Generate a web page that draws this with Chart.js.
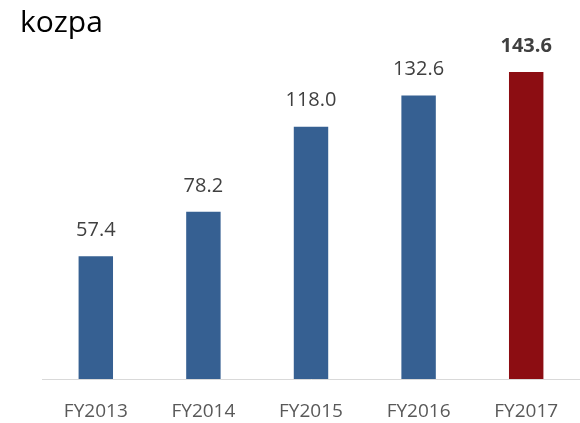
<!DOCTYPE html>
<html>
<head>
<meta charset="utf-8">
<script src="https://cdn.jsdelivr.net/npm/chart.js@4/dist/chart.umd.min.js"></script>
<style>
  html, body { margin: 0; padding: 0; background: #fff; }
  #wrap { position: relative; width: 580px; height: 423px; }
</style>
</head>
<body>
<div id="wrap"><canvas id="kozpaChart"></canvas></div>
<script>
const years = ["FY2013", "FY2014", "FY2015", "FY2016", "FY2017"];
const values = [57.4, 78.2, 118.0, 132.6, 143.6];
const valueLabels = ["57.4", "78.2", "118.0", "132.6", "143.6"];
const barColors = ["#366092", "#366092", "#366092", "#366092", "#8c0d12"];

// title + value labels drawn on top of the bars
const labelPlugin = {
  id: "labels",
  afterDatasetsDraw(chart) {
    const ctx = chart.ctx;
    ctx.save();
    ctx.fillStyle = "#000";
    ctx.font = "30px 'Open Sans'";
    ctx.textAlign = "left";
    ctx.textBaseline = "alphabetic";
    ctx.fillText("kozpa", 20, 32);

    const meta = chart.getDatasetMeta(0);
    ctx.textAlign = "center";
    ctx.textBaseline = "middle";
    ctx.fillStyle = "#404040";
    meta.data.forEach((bar, i) => {
      const last = i === meta.data.length - 1;
      ctx.font = (last ? "bold " : "") + "20px 'Open Sans'";
      ctx.fillText(valueLabels[i], bar.x, bar.y - 26);
    });
    ctx.restore();
  }
};

const ctxKozpa = document.getElementById("kozpaChart");

new Chart(ctxKozpa, {
  type: "bar",
  data: {
    labels: years,
    datasets: [{
      data: values,
      backgroundColor: barColors,
      borderWidth: 0,
      barPercentage: 0.32,
      categoryPercentage: 1,
    }]
  },
  options: {
    responsive: true,
    maintainAspectRatio: false,
    animation: false,
    layout: { padding: { left: 42, right: 0, top: 37, bottom: 0 } },
    scales: {
      x: {
        grid: { display: false, drawTicks: false },
        border: { display: true, color: "#d9d9d9", width: 1 },
        ticks: { color: "#595959", font: { family: "'Open Sans'", size: 19 }, padding: 21 },
        afterFit: (scale) => { scale.height = 44; },
      },
      y: {
        display: false,
        min: 0,
        max: 160,
      },
    },
    plugins: {
      legend: { display: false },
      tooltip: { enabled: false },
    },
  },
  plugins: [labelPlugin],
});
</script>
</body>
</html>
